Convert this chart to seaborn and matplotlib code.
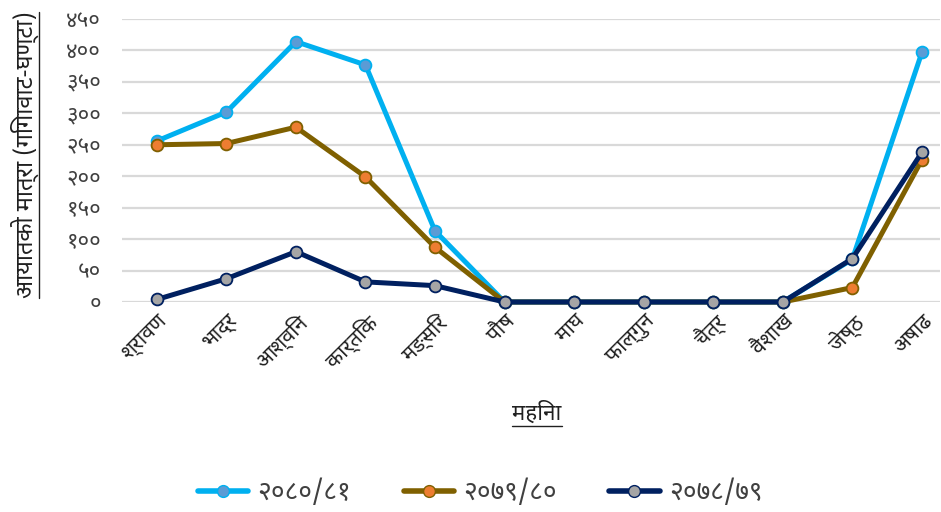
import seaborn as sns
import matplotlib.pyplot as plt
from matplotlib import font_manager
from matplotlib.lines import Line2D

months = ["श्रावण", "भाद्र", "आश्विन", "कार्तिक", "मङ्सिर", "पौष", "माघ",
          "फाल्गुन", "चैत्र", "वैशाख", "जेष्ठ", "अषाढ"]
y_2080 = [256, 302, 414, 377, 113, 0, 0, 0, 0, 0, 68, 397]
y_2079 = [250, 252, 278, 199, 87, 0, 0, 0, 0, 0, 23, 226]
y_2078 = [4, 37, 80, 32, 26, 0, 0, 0, 0, 0, 69, 238]
series_names = ["२०८०/८१", "२०७९/८०", "२०७८/७९"]
yticks = [0, 50, 100, 150, 200, 250, 300, 350, 400, 450]
ytick_labels = ["०", "५०", "१००", "१५०", "२००", "२५०", "३००", "३५०", "४००", "४५०"]

# line colour, marker face colour
styles = [("#00B0F0", "#5B9BD5"), ("#7F6000", "#ED7D31"), ("#002060", "#A5A5A5")]

sns.set_style("white")
names = {f.name for f in font_manager.fontManager.ttflist}
deva = [n for n in ["Noto Sans Devanagari", "Hind", "Mukta", "Poppins", "FreeSans"] if n in names]
plt.rcParams['font.family'] = deva[:1] + ['DejaVu Sans']

fig = plt.figure(figsize=(9.41, 5.12), dpi=100)
ax = fig.add_axes([122 / 941, 1 - 302 / 512, (940 - 122) / 941, (302 - 19) / 512])

for vals, (lc, mc) in zip([y_2080, y_2079, y_2078], styles):
    sns.lineplot(x=months, y=vals, ax=ax, color=lc, linewidth=3.6, marker='o',
                 markersize=8.5, markerfacecolor=mc, markeredgecolor=lc,
                 markeredgewidth=1.3, clip_on=False, sort=False)

ax.set_ylim(0, 450)
ax.set_xlim(-0.5, 11.26)
ax.set_yticks(yticks)
ax.set_yticklabels(ytick_labels, fontsize=16, color="#404040")
ax.set_xticks(range(len(months)))
ax.set_xticklabels(months, rotation=45, ha='right', rotation_mode='anchor',
                   fontsize=15, color="#202020")
ax.tick_params(axis='y', length=0, pad=15)
ax.tick_params(axis='x', length=0, pad=6)
ax.grid(axis='y', color="#D9D9D9", linewidth=1.6)
ax.set_axisbelow(True)
sns.despine(ax=ax, left=True, bottom=True)

ylab = fig.text(25 / 941, 1 - 155 / 512, "आयातको मात्रा (गिगावाट-घण्टा)", rotation=90,
                ha='center', va='center', fontsize=17, color="#202020")
xlab = fig.text(537 / 941, 1 - 413 / 512, "महिना", ha='center', va='center',
                fontsize=16, color="#202020")

handles = [Line2D([], [], color=lc, linewidth=4, marker='o', markersize=8.5,
                  markerfacecolor=mc, markeredgecolor=lc) for lc, mc in styles]
fig.legend(handles, series_names, loc='center', bbox_to_anchor=(480 / 941, 1 - 493 / 512),
           ncol=3, frameon=False, fontsize=19, handlelength=1.9, handletextpad=0.35,
           columnspacing=2.0, labelcolor="#404040")

# underline the axis titles
fig.canvas.draw()
r = fig.canvas.get_renderer()
inv = fig.transFigure.inverted()
bb = xlab.get_window_extent(r).transformed(inv)
fig.add_artist(Line2D([bb.x0, bb.x1], [bb.y0 - 0.002, bb.y0 - 0.002], color="#202020",
                      linewidth=1, transform=fig.transFigure))
bb = ylab.get_window_extent(r).transformed(inv)
fig.add_artist(Line2D([bb.x1, bb.x1], [bb.y0, bb.y1], color="#202020",
                      linewidth=1, transform=fig.transFigure))

fig.savefig("out.png", dpi=100)
